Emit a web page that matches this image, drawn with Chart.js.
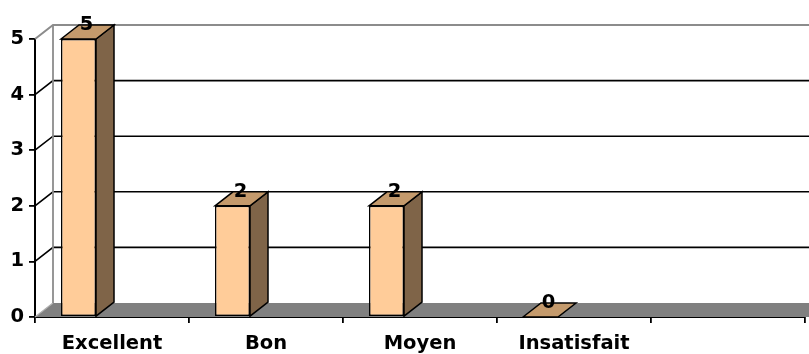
<!DOCTYPE html>
<html>
<head>
<meta charset="utf-8">
<script src="https://cdn.jsdelivr.net/npm/chart.js@4/dist/chart.umd.min.js"></script>
<style>
  html, body { margin: 0; padding: 0; background: #fff; }
  #wrap { width: 809px; height: 354px; position: relative; }
</style>
</head>
<body>
<div id="wrap"><canvas id="c"></canvas></div>
<script>
// Survey results: number of answers per rating
const categories = ['Excellent', 'Bon', 'Moyen', 'Insatisfait', ''];
const responses = [5, 2, 2, 0, null];
const yTicks = [0, 1, 2, 3, 4, 5];

// Depth of the pseudo-3D projection (pixels)
const DX = 18, DY = -14;
const FONT = { family: 'DejaVu Sans', size: 19.5, weight: 'bold' };
const COLORS = {
  front: '#FFCC99',
  side: '#7F6448',
  top: '#C49A6C',
  floor: '#808080',
  wallEdge: '#8C8C8C'
};

function poly(ctx, pts, fill) {
  ctx.beginPath();
  ctx.moveTo(pts[0][0], pts[0][1]);
  for (let i = 1; i < pts.length; i++) ctx.lineTo(pts[i][0], pts[i][1]);
  ctx.closePath();
  ctx.fillStyle = fill;
  ctx.fill();
  ctx.stroke();
}

// Floor, back wall gridlines and side-wall slants
const wallPlugin = {
  id: 'wall3d',
  beforeDatasetsDraw(chart) {
    const { ctx, chartArea: a, scales: { y } } = chart;
    const W = chart.width + 30;
    const y0 = y.getPixelForValue(0);
    const yMax = y.getPixelForValue(yTicks[yTicks.length - 1]);
    ctx.save();
    // floor
    ctx.fillStyle = COLORS.floor;
    ctx.beginPath();
    ctx.moveTo(a.left, y0);
    ctx.lineTo(a.left + DX, y0 + DY);
    ctx.lineTo(W + DX, y0 + DY);
    ctx.lineTo(W, y0);
    ctx.closePath();
    ctx.fill();
    ctx.strokeStyle = '#B0B0B0';
    ctx.lineWidth = 1.2;
    ctx.beginPath();
    ctx.moveTo(a.left, y0);
    ctx.lineTo(a.left + DX, y0 + DY);
    ctx.stroke();
    // gridlines on the side wall and back wall
    yTicks.forEach(v => {
      if (v === 0) return;
      const py = y.getPixelForValue(v);
      const isTop = v === yTicks[yTicks.length - 1];
      ctx.strokeStyle = isTop ? COLORS.wallEdge : '#000';
      ctx.lineWidth = isTop ? 2 : 1.6;
      ctx.beginPath();
      ctx.moveTo(a.left, py);
      ctx.lineTo(a.left + DX, py + DY);
      ctx.lineTo(W, py + DY);
      ctx.stroke();
    });
    // back wall left edge
    ctx.strokeStyle = COLORS.wallEdge;
    ctx.lineWidth = 1.8;
    ctx.beginPath();
    ctx.moveTo(a.left + DX, yMax + DY);
    ctx.lineTo(a.left + DX, y0 + DY);
    ctx.stroke();
    ctx.restore();
  },
  afterDatasetsDraw(chart) {
    const { ctx } = chart;
    const meta = chart.getDatasetMeta(0);
    ctx.save();
    ctx.strokeStyle = '#000';
    ctx.lineWidth = 1.5;
    ctx.lineJoin = 'miter';
    meta.data.forEach((bar, i) => {
      const v = responses[i];
      if (v === null || v === undefined) return;
      const { x, y, base, width } = bar.getProps(['x', 'y', 'base', 'width'], true);
      const l = x - width / 2, r = x + width / 2;
      if (base - y > 0.5) {
        poly(ctx, [[r, y], [r + DX, y + DY], [r + DX, base + DY], [r, base]], COLORS.side);
      }
      poly(ctx, [[l, y], [l + DX, y + DY], [r + DX, y + DY], [r, y]], COLORS.top);
      ctx.fillStyle = '#000';
      ctx.font = `${FONT.weight} ${FONT.size}px "${FONT.family}"`;
      ctx.textAlign = 'center';
      ctx.textBaseline = 'middle';
      ctx.fillText(String(v), x + 8, y + DY);
    });
    ctx.restore();
  }
};

new Chart(document.getElementById('c'), {
  type: 'bar',
  data: {
    labels: categories,
    datasets: [
      {
        label: 'Réponses',
        data: responses,
        backgroundColor: COLORS.front,
        borderColor: '#000',
        borderWidth: 1.5,
        borderSkipped: false
      },
      {
        // empty slot so the bar sits to the left of the category centre
        label: 'spacer',
        data: categories.map(() => null),
        backgroundColor: 'rgba(0,0,0,0)'
      }
    ]
  },
  options: {
    responsive: true,
    maintainAspectRatio: false,
    animation: false,
    categoryPercentage: 0.87,
    barPercentage: 0.5225,
    layout: { padding: { top: 39, right: 4, left: 0, bottom: 0 } },
    plugins: { legend: { display: false }, tooltip: { enabled: false } },
    scales: {
      x: {
        offset: true,
        grid: { display: true, offset: true, drawOnChartArea: false, drawTicks: true, tickLength: 6, color: '#000', lineWidth: 1.8 },
        border: { display: true, color: '#000', width: 2 },
        ticks: { color: '#000', font: FONT, padding: 9, maxRotation: 0, autoSkip: false },
        afterFit(scale) { scale.height = 37; }
      },
      y: {
        min: 0,
        max: 5,
        afterBuildTicks(scale) { scale.ticks = yTicks.map(v => ({ value: v })); },
        grid: { display: true, drawOnChartArea: false, drawTicks: true, tickLength: 6, color: '#000', lineWidth: 1.8 },
        border: { display: true, color: '#000', width: 2 },
        ticks: { color: '#000', font: FONT, padding: 5 },
        afterFit(scale) { scale.width = 35; }
      }
    }
  },
  plugins: [wallPlugin]
});
</script>
</body>
</html>
